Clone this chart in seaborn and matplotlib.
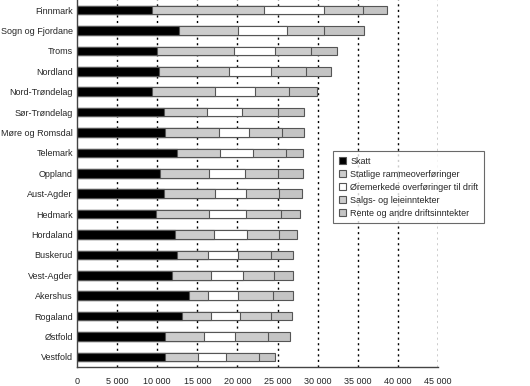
"""Driftsinntekter per innbygger etter fylke, stablet liggende stolpediagram."""

import matplotlib.pyplot as plt
import numpy as np
import pandas as pd
import seaborn as sns
from matplotlib.patches import Patch
from matplotlib.ticker import FixedLocator, FuncFormatter

fylker = [
    "Finnmark", "Sogn og Fjordane", "Troms", "Nordland", "Nord-Trøndelag",
    "Sør-Trøndelag", "Møre og Romsdal", "Telemark", "Oppland", "Aust-Agder",
    "Hedmark", "Hordaland", "Buskerud", "Vest-Agder", "Akershus", "Rogaland",
    "Østfold", "Vestfold",
]

skatt = [9310, 12720, 9970, 10260, 9350, 10850, 10970, 12470, 10390, 10850,
         9810, 12180, 12430, 11840, 14000, 13050, 11010, 10930]
statlige = [14040, 7390, 9640, 8730, 7890, 5310, 6690, 5400, 6100, 6390,
            6680, 4940, 3940, 4900, 2370, 3690, 4860, 4110]
oremerkede = [7480, 6110, 5110, 5230, 4910, 4450, 3820, 4110, 4490, 3870,
              4620, 4110, 3700, 3990, 3700, 3620, 3860, 3570]
salgs = [4860, 4610, 4490, 4370, 4320, 4490, 4040, 4030, 4120, 4110,
         4280, 3990, 4150, 3870, 4400, 3860, 4120, 4120]
rente = [2910, 4900, 3160, 3030, 3410, 3240, 2820, 2210, 3120, 2870,
         2450, 2200, 2750, 2370, 2500, 2540, 2660, 1990]

serier = [
    "Skatt",
    "Statlige rammeoverføringer",
    "Øremerkede overføringer til drift",
    "Salgs- og leieinntekter",
    "Rente og andre driftsinntekter",
]
farger = ["#000000", "#cccccc", "#ffffff", "#cccccc", "#c4c4c4"]

x_ticks = [0, 5000, 10000, 15000, 20000, 25000, 30000, 35000, 40000, 45000]

sns.set_style("white")
plt.rcParams["font.family"] = ["Liberation Sans", "DejaVu Sans"]
plt.rcParams["font.size"] = 6.5

df = pd.DataFrame(
    {"fylke": fylker, serier[0]: skatt, serier[1]: statlige,
     serier[2]: oremerkede, serier[3]: salgs, serier[4]: rente}
)
cum = df[serier].cumsum(axis=1)

fig = plt.figure(figsize=(5.3, 3.86), dpi=100)
ax = fig.add_axes([0.1453, 0.049, 0.681, 0.951])

# tegn fra lengste til korteste slik at segmentene ligger oppå hverandre
for serie, farge in reversed(list(zip(serier, farger))):
    sns.barplot(
        x=cum[serie], y=df["fylke"], orient="h", color=farge, width=0.42,
        edgecolor="#555555", linewidth=0.8, errorbar=None, saturation=1,
        ax=ax,
    )

ax.set_xlim(0, 45000)
ax.set_ylim(len(fylker) - 0.5, -0.5)
ax.set_xlabel("")
ax.set_ylabel("")

ax.xaxis.set_major_locator(FixedLocator(x_ticks))
ax.xaxis.set_major_formatter(
    FuncFormatter(lambda v, _: "0" if v == 0 else f"{int(v):,}".replace(",", " "))
)
for t in x_ticks[1:]:
    ax.axvline(t, color="black", linestyle=(0, (1.5, 2.5)), linewidth=1.0, zorder=0)

ax.yaxis.set_minor_locator(FixedLocator(np.arange(-0.5, len(fylker), 1)))
ax.tick_params(axis="y", which="major", length=0, pad=3, labelsize=6.5)
ax.tick_params(axis="y", which="minor", direction="inout", length=6, width=0.8,
               color="#444444")
ax.tick_params(axis="x", which="major", direction="inout", length=4, width=0.8,
               color="#444444", labelsize=6.5, pad=5)

for side in ["top", "right"]:
    ax.spines[side].set_visible(False)
for side in ["left", "bottom"]:
    ax.spines[side].set_color("#444444")
    ax.spines[side].set_linewidth(1.0)

handles = [Patch(facecolor=f, edgecolor="#555555", linewidth=0.8) for f in farger]
leg = fig.legend(
    handles, serier, loc="upper left", bbox_to_anchor=(0.62, 0.62),
    frameon=True, fancybox=False, fontsize=6.5, handlelength=0.8,
    handleheight=0.8, handletextpad=0.5, labelspacing=0.45, borderpad=0.6,
)
leg.get_frame().set_edgecolor("#444444")
leg.get_frame().set_linewidth(0.8)

fig.savefig("out.png", dpi=100)
